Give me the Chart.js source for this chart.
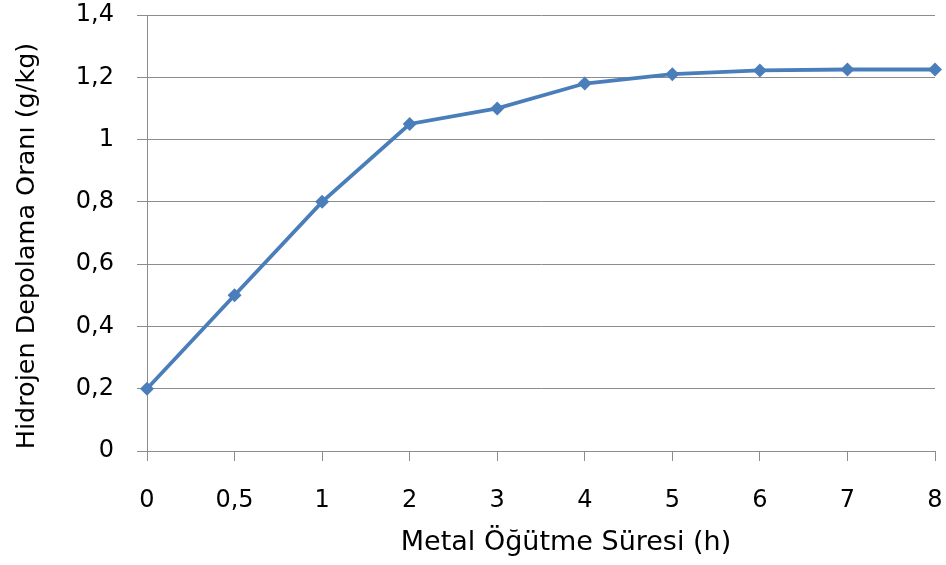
<!DOCTYPE html>
<html>
<head>
<meta charset="utf-8">
<script src="https://cdn.jsdelivr.net/npm/chart.js@4/dist/chart.umd.min.js"></script>
<style>
  html, body { margin: 0; padding: 0; background: #fff; }
  #wrap { width: 946px; height: 565px; position: relative; }
</style>
</head>
<body>
<div id="wrap"><canvas id="c" width="946" height="565"></canvas></div>
<script>
// Milling time (h) and hydrogen storage capacity (g/kg)
const millingTimes = ['0', '0,5', '1', '2', '3', '4', '5', '6', '7', '8'];
const storageRates = [0.2, 0.5, 0.8, 1.05, 1.1, 1.18, 1.21, 1.222, 1.225, 1.225];
const yTickValues = [0, 0.2, 0.4, 0.6, 0.8, 1, 1.2, 1.4];

const xTitle = 'Metal Öğütme Süresi (h)';
const yTitle = 'Hidrojen Depolama Oranı (g/kg)';

const FONT = '"DejaVu Sans", "Open Sans", sans-serif';
const gridGray = '#8c8c8c';

// Axis titles, placed in the margins around the plot
const axisTitlesPlugin = {
  id: 'axisTitles',
  afterDraw(chart) {
    const ctx = chart.ctx;
    ctx.save();
    ctx.fillStyle = '#000';
    ctx.textAlign = 'center';
    ctx.textBaseline = 'middle';
    ctx.font = '27px ' + FONT;
    ctx.fillText(xTitle, 566, 543);
    ctx.translate(27, 246);
    ctx.rotate(-Math.PI / 2);
    ctx.font = '25.5px ' + FONT;
    ctx.fillText(yTitle, 0, 0);
    ctx.restore();
  }
};

new Chart(document.getElementById('c'), {
  type: 'line',
  data: {
    labels: millingTimes,
    datasets: [{
      data: storageRates,
      borderColor: '#4a7ebb',
      backgroundColor: '#4a7ebb',
      borderWidth: 3.8,
      pointStyle: 'rectRot',
      pointRadius: 7,
      pointHoverRadius: 7,
      pointBorderWidth: 0,
      tension: 0,
      clip: false
    }]
  },
  options: {
    responsive: false,
    animation: false,
    events: [],
    layout: { padding: { top: 15, right: 11, left: 0, bottom: 0 } },
    plugins: { legend: { display: false }, tooltip: { enabled: false } },
    scales: {
      x: {
        type: 'category',
        offset: false,
        grid: { display: true, drawOnChartArea: false, drawTicks: true, tickLength: 10, color: gridGray, lineWidth: 1 },
        border: { display: true, color: gridGray, width: 1 },
        ticks: { color: '#000', font: { family: FONT, size: 24 }, padding: 25, maxRotation: 0, autoSkip: false },
        afterFit(scale) {
          scale.height = 114;
          scale.paddingLeft = 0;
          scale.paddingRight = 0;
        }
      },
      y: {
        min: 0,
        max: 1.4,
        afterBuildTicks(scale) { scale.ticks = yTickValues.map(v => ({ value: v })); },
        grid: { color: gridGray, lineWidth: 1, tickLength: 10, drawTicks: true },
        border: { display: true, color: gridGray, width: 1 },
        ticks: {
          color: '#000',
          font: { family: FONT, size: 24 },
          padding: 23,
          callback: v => String(Math.round(v * 10) / 10).replace('.', ',')
        },
        afterFit(scale) {
          scale.width = 147;
          scale.paddingTop = 0;
          scale.paddingBottom = 0;
        }
      }
    }
  },
  plugins: [axisTitlesPlugin]
});
</script>
</body>
</html>
